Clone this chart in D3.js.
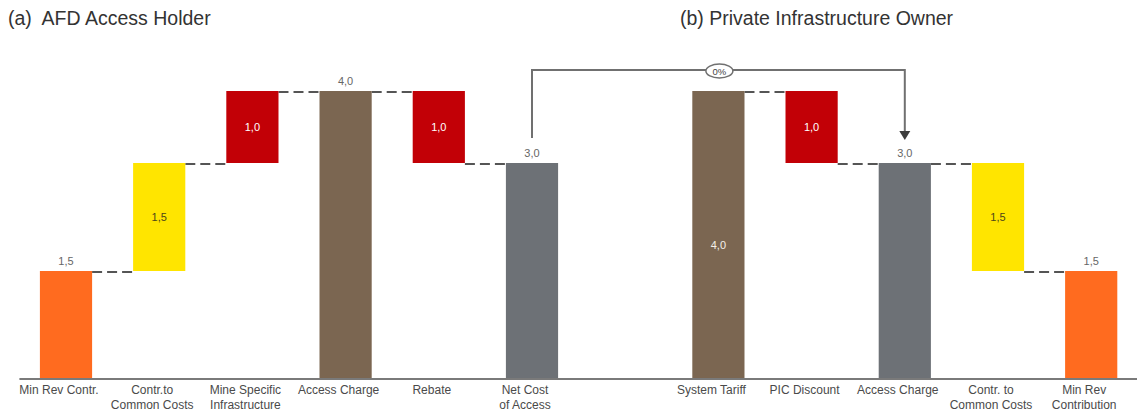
<!DOCTYPE html>
<html>
<head>
<meta charset="utf-8">
<script src="https://cdn.jsdelivr.net/npm/d3@7"></script>
<style>
  html, body { margin: 0; padding: 0; background: #fff; }
  svg { display: block; font-family: "Liberation Sans", Arial, Helvetica, sans-serif; }
</style>
</head>
<body>
<svg id="chart" width="1137" height="412"></svg>
<script>
// Two side-by-side waterfalls sharing one band scale; slot "gap" separates them.
const slots = ["a0", "a1", "a2", "a3", "a4", "a5", "gap", "b0", "b1", "b2", "b3", "b4"];
const categoryLines = [
  ["Min Rev Contr."],
  ["Contr.to", "Common Costs"],
  ["Mine Specific", "Infrastructure"],
  ["Access Charge"],
  ["Rebate"],
  ["Net Cost", "of Access"],
  [],
  ["System Tariff"],
  ["PIC Discount"],
  ["Access Charge"],
  ["Contr. to", "Common Costs"],
  ["Min Rev", "Contribution"]
];
// bar heights (step sizes) and their floating base
const steps = [1.5, 1.5, 1.0, 4.0, 1.0, 3.0, null, 4.0, 1.0, 3.0, 1.5, 1.5];
const bases = [0, 1.5, 3.0, 0, 3.0, 0, null, 0, 3.0, 0, 1.5, 0];
const kinds = ["minrev", "common", "deduct", "charge", "deduct", "net", null, "charge", "deduct", "net", "common", "minrev"];
const labelPlacement = ["above", "inside", "inside", "above", "inside", "above", null, "inside", "inside", "above", "inside", "above"];
const panelTitles = ["(a)  AFD Access Holder", "(b) Private Infrastructure Owner"];
const transferLabel = "0%";
const transferFrom = 5, transferTo = 9, transferTag = 7;

const fill = {
  minrev: "#ff6b1f",
  common: "#ffe500",
  deduct: "#c20006",
  charge: "#7b6651",
  net: "#6d7176"
};
const labelColor = { minrev: "#666", common: "#4d4619", deduct: "#fff", charge: "#f4efe9", net: "#666" };

const fmt = v => d3.format(".1f")(v).replace(".", ",");

const svg = d3.select("#chart");

const x = d3.scaleBand()
  .domain(slots)
  .range([19.4, 1137.8])
  .paddingInner(0.44)
  .paddingOuter(0.22);

const y = d3.scaleLinear().domain([0, 4]).range([379, 91]);

const bars = slots.map((s, i) => ({
  slot: s, i, step: steps[i], base: bases[i], kind: kinds[i],
  top: steps[i] == null ? null : bases[i] + steps[i],
  place: labelPlacement[i]
})).filter(d => d.step != null);

// titles
svg.append("g").selectAll("text")
  .data(panelTitles)
  .join("text")
  .attr("x", (d, i) => i === 0 ? 8 : 680)
  .attr("y", 25)
  .attr("fill", "#333")
  .attr("font-size", 19.5)
  .style("white-space", "pre")
  .text(d => d);

// dashed connectors between neighbouring bars at their shared level
const connectors = [];
for (let k = 0; k < bars.length - 1; k++) {
  const a = bars[k], b = bars[k + 1];
  if (b.i !== a.i + 1) continue;
  const aLv = [a.top, a.base], bLv = [b.top, b.base];
  const level = aLv.find(v => v !== 0 && bLv.includes(v));
  if (level != null) connectors.push({ a, b, level });
}
svg.append("g")
  .selectAll("line")
  .data(connectors)
  .join("line")
  .attr("x1", d => x(d.a.slot) + x.bandwidth())
  .attr("x2", d => x(d.b.slot))
  .attr("y1", d => y(d.level) + 1)
  .attr("y2", d => y(d.level) + 1)
  .attr("stroke", "#555")
  .attr("stroke-width", 2)
  .attr("stroke-dasharray", "10,5");

// bars
svg.append("g")
  .selectAll("rect")
  .data(bars)
  .join("rect")
  .attr("x", d => x(d.slot))
  .attr("width", x.bandwidth())
  .attr("y", d => y(d.top))
  .attr("height", d => y(d.base) - y(d.top))
  .attr("fill", d => fill[d.kind]);

// value labels
svg.append("g")
  .selectAll("text")
  .data(bars)
  .join("text")
  .attr("x", d => x(d.slot) + x.bandwidth() / 2)
  .attr("y", d => d.place === "above"
    ? y(d.top) - 6
    : (d.kind === "charge" ? (y(d.top) + y(d.base)) / 2 + 14 : (y(d.top) + y(d.base)) / 2 + 4))
  .attr("text-anchor", "middle")
  .attr("font-size", 11)
  .attr("fill", d => d.place === "above" ? "#666" : labelColor[d.kind])
  .text(d => fmt(d.step));

// baseline
svg.append("line")
  .attr("x1", x.range()[0])
  .attr("x2", x.range()[1])
  .attr("y1", y(0))
  .attr("y2", y(0))
  .attr("stroke", "#7a7a7a")
  .attr("stroke-width", 2);

// category labels
const cat = svg.append("g")
  .selectAll("text")
  .data(categoryLines.map((lines, i) => ({ lines, slot: slots[i] })).filter(d => d.lines.length))
  .join("text")
  .attr("text-anchor", "middle")
  .attr("font-size", 12)
  .attr("fill", "#4a4a4a");
cat.selectAll("tspan")
  .data(d => d.lines.map(l => ({ l, cx: x(d.slot) + x.bandwidth() / 2 - 7 })))
  .join("tspan")
  .attr("x", d => d.cx)
  .attr("y", (d, j) => 394 + j * 15)
  .text(d => d.l);

// transfer arrow from net cost of access to the owner's access charge
const fromBar = bars.find(d => d.i === transferFrom);
const toBar = bars.find(d => d.i === transferTo);
const xA = x(fromBar.slot) + x.bandwidth() / 2;
const xB = x(toBar.slot) + x.bandwidth() / 2;
const yTop = y(4) - 21;
const yStart = y(fromBar.top) - 25;
const yEnd = y(toBar.top) - 23;
svg.append("path")
  .attr("d", d3.line()([[xA, yStart], [xA, yTop], [xB, yTop], [xB, yEnd - 8]]))
  .attr("fill", "none")
  .attr("stroke", "#707070")
  .attr("stroke-width", 2);
svg.append("path")
  .attr("d", d3.line()([[xB - 5.5, yEnd - 9], [xB + 5.5, yEnd - 9], [xB, yEnd]]) + "Z")
  .attr("fill", "#3c3c3c");

const tagX = x(slots[transferTag]) + x.bandwidth() / 2 + 1;
svg.append("ellipse")
  .attr("cx", tagX)
  .attr("cy", yTop + 1)
  .attr("rx", 13.5)
  .attr("ry", 7)
  .attr("fill", "#fff")
  .attr("stroke", "#707070")
  .attr("stroke-width", 1.5);
svg.append("text")
  .attr("x", tagX)
  .attr("y", yTop + 4.5)
  .attr("text-anchor", "middle")
  .attr("font-size", 9.5)
  .attr("fill", "#444")
  .text(transferLabel);
</script>
</body>
</html>
